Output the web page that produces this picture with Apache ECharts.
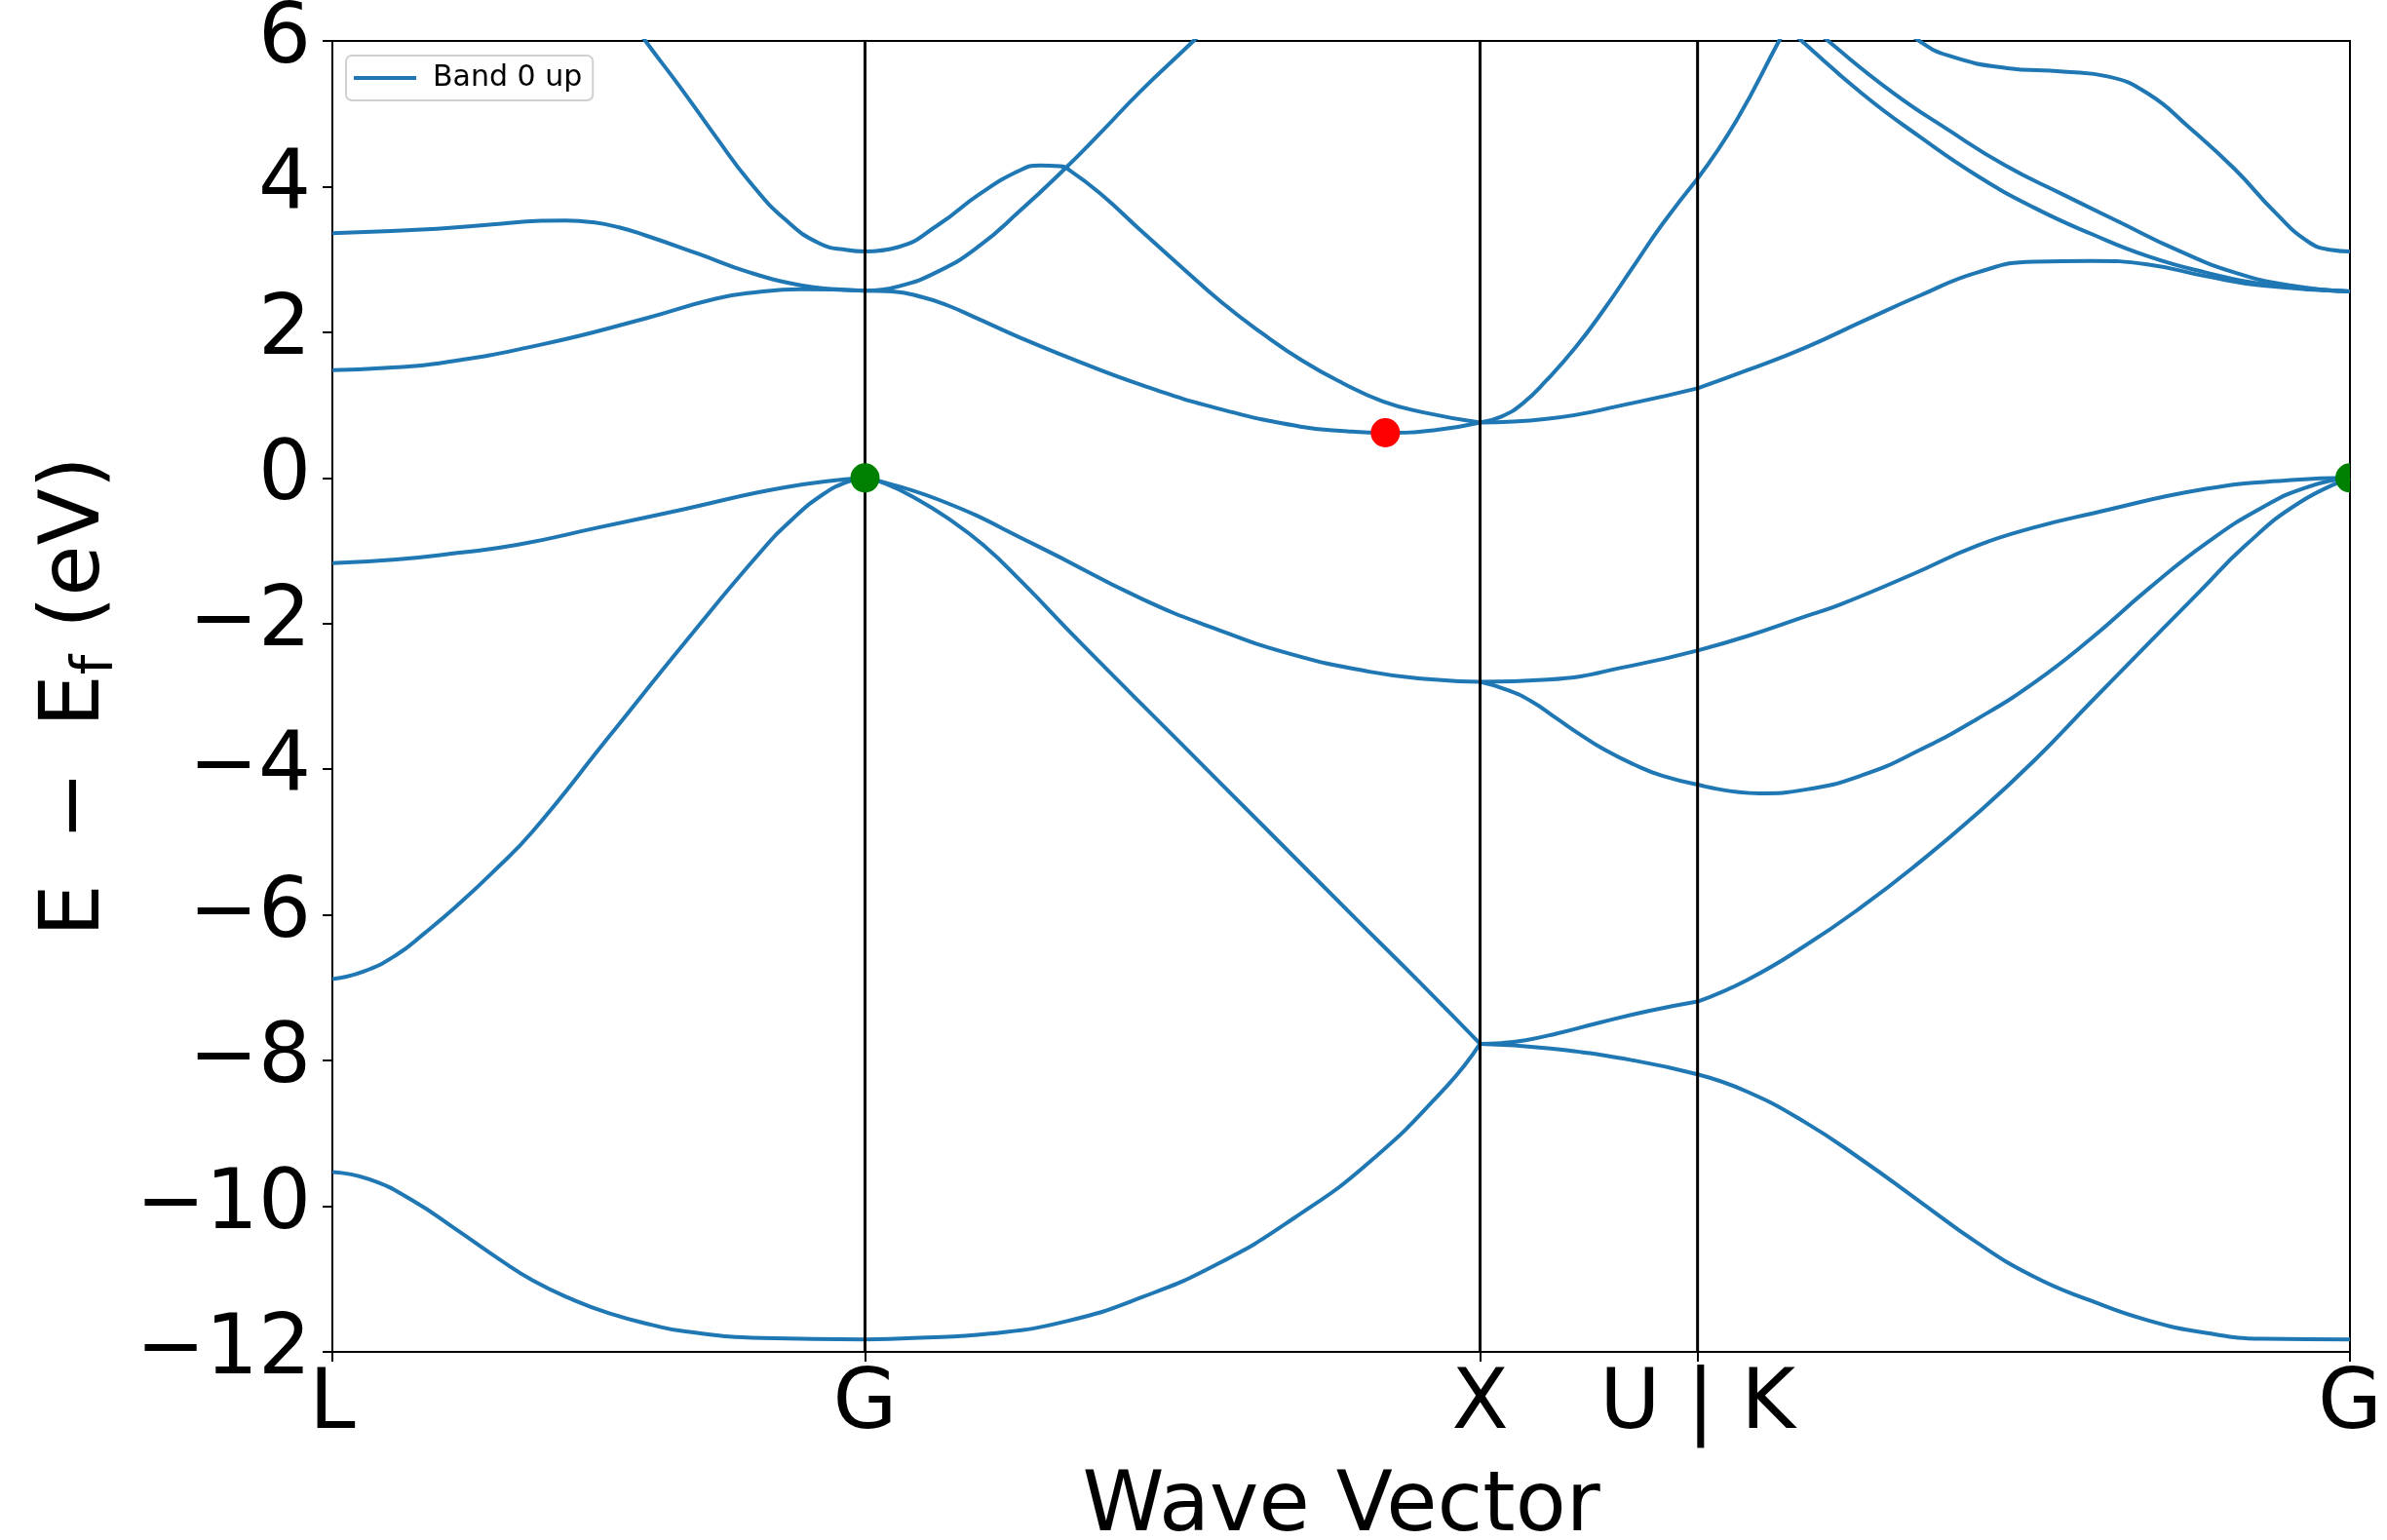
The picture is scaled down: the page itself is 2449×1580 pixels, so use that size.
<!DOCTYPE html>
<html><head><meta charset="utf-8">
<script src="https://cdn.jsdelivr.net/npm/echarts@6/dist/echarts.min.js"></script>
<style>html,body{margin:0;padding:0;background:#fff}#c{width:2449px;height:1580px}</style>
</head><body><div id="c"></div>
<script>
// High-symmetry path positions (cumulative k distance) and their labels
const kTicks = [0, 0.866, 1.866, 2.2196, 3.2803];
const kLabels = ['L', 'G', 'X', 'U | K', 'G'];
const yMin = -12, yMax = 6, yStep = 2;

// Bands, segment L -> G : [k, E - Ef]
const bandsLG = [
  [[0,-9.53],[0.06,-9.63],[0.130,-9.92],[0.203,-10.33],[0.270,-10.72],[0.326,-11.02],[0.390,-11.28],[0.450,-11.47],[0.520,-11.63],[0.574,-11.72],[0.698,-11.81],[0.866,-11.83]],
  [[0,-6.88],[0.05,-6.78],[0.104,-6.55],[0.150,-6.25],[0.203,-5.87],[0.260,-5.42],[0.326,-4.85],[0.450,-3.55],[0.574,-2.25],[0.698,-1.0],[0.750,-0.55],[0.797,-0.23],[0.835,-0.06],[0.866,0]],
  [[0,-1.17],[0.104,-1.12],[0.203,-1.03],[0.300,-0.92],[0.433,-0.68],[0.566,-0.44],[0.736,-0.13],[0.866,0]],
  [[0,1.48],[0.085,1.51],[0.170,1.57],[0.339,1.83],[0.509,2.19],[0.623,2.46],[0.690,2.55],[0.760,2.59],[0.866,2.57]],
  [[0,3.36],[0.170,3.42],[0.260,3.48],[0.339,3.53],[0.380,3.535],[0.424,3.51],[0.466,3.44],[0.509,3.33],[0.594,3.08],[0.679,2.82],[0.764,2.64],[0.820,2.59],[0.866,2.57]],
  [[0.390,7.3],[0.450,6.7],[0.509,6.0],[0.566,5.36],[0.623,4.69],[0.679,4.06],[0.736,3.55],[0.792,3.22],[0.837,3.13],[0.866,3.11]]
];
// Bands, segment G -> X
const bandsGX = [
  [[0.866,-11.83],[0.945,-11.81],[1.069,-11.75],[1.193,-11.58],[1.316,-11.25],[1.440,-10.79],[1.564,-10.16],[1.688,-9.38],[1.812,-8.35],[1.866,-7.77]],
  [[0.866,0],[0.900,-0.08],[0.946,-0.27],[1.000,-0.55],[1.058,-0.92],[1.120,-1.42],[1.216,-2.26],[1.366,-3.53],[1.516,-4.80],[1.666,-6.07],[1.766,-6.91],[1.866,-7.77]],
  [[0.866,0],[0.986,-0.30],[1.143,-0.92],[1.316,-1.66],[1.439,-2.08],[1.563,-2.43],[1.686,-2.66],[1.776,-2.76],[1.866,-2.80]],
  [[0.866,2.57],[0.910,2.56],[0.960,2.48],[1.000,2.37],[1.051,2.18],[1.117,1.93],[1.183,1.70],[1.314,1.28],[1.446,0.94],[1.577,0.70],[1.650,0.64],[1.712,0.62],[1.796,0.66],[1.866,0.76]],
  [[0.866,2.57],[0.920,2.63],[0.986,2.84],[1.051,3.18],[1.117,3.66],[1.183,4.18],[1.248,4.73],[1.314,5.31],[1.400,6.0],[1.466,6.55]],
  [[0.866,3.11],[0.920,3.17],[0.986,3.48],[1.051,3.89],[1.117,4.22],[1.150,4.29],[1.183,4.28],[1.196,4.24],[1.248,3.91],[1.314,3.40],[1.380,2.90],[1.446,2.41],[1.511,1.99],[1.577,1.61],[1.643,1.30],[1.708,1.05],[1.774,0.90],[1.866,0.76]]
];
// Bands, segment X -> U
const bandsXU = [
  [[1.866,-7.77],[1.976,-7.83],[2.117,-8.0],[2.2196,-8.19]],
  [[1.866,-7.77],[1.900,-7.76],[1.940,-7.72],[1.990,-7.63],[2.060,-7.48],[2.140,-7.32],[2.2196,-7.19]],
  [[1.866,-2.80],[1.976,-2.77],[2.117,-2.57],[2.2196,-2.37]],
  [[1.866,-2.80],[1.910,-2.91],[1.950,-3.07],[1.990,-3.30],[2.030,-3.53],[2.068,-3.73],[2.115,-3.93],[2.162,-4.09],[2.2196,-4.21]],
  [[1.866,0.76],[1.974,0.81],[2.115,1.03],[2.2196,1.23]],
  [[1.866,0.76],[1.900,0.84],[1.935,1.02],[1.974,1.34],[2.021,1.79],[2.068,2.32],[2.115,2.90],[2.162,3.48],[2.2196,4.11]]
];
// Bands, segment K -> G
const bandsKG = [
  [[2.2196,-8.19],[2.301,-8.43],[2.395,-8.85],[2.488,-9.37],[2.580,-9.93],[2.674,-10.50],[2.767,-10.97],[2.860,-11.30],[2.953,-11.57],[3.046,-11.74],[3.139,-11.82],[3.2803,-11.83]],
  [[2.2196,-7.19],[2.301,-6.89],[2.395,-6.42],[2.488,-5.88],[2.580,-5.28],[2.674,-4.61],[2.767,-3.88],[2.860,-3.07],[2.953,-2.27],[3.036,-1.56],[3.110,-0.93],[3.196,-0.35],[3.2803,0]],
  [[2.2196,-2.37],[2.301,-2.17],[2.395,-1.90],[2.451,-1.74],[2.567,-1.33],[2.674,-0.93],[2.767,-0.68],[2.860,-0.49],[3.046,-0.15],[3.185,-0.03],[3.2803,0]],
  [[2.2196,-4.21],[2.320,-4.33],[2.395,-4.28],[2.488,-4.08],[2.580,-3.74],[2.674,-3.31],[2.767,-2.81],[2.860,-2.20],[2.953,-1.52],[3.046,-0.90],[3.139,-0.40],[3.213,-0.12],[3.2803,0]],
  [[2.2196,1.23],[2.301,1.48],[2.395,1.79],[2.488,2.15],[2.580,2.50],[2.674,2.82],[2.767,2.97],[2.860,2.98],[2.953,2.93],[3.046,2.77],[3.139,2.64],[3.2803,2.56]],
  [[2.2196,4.11],[2.283,4.91],[2.352,6.0],[2.400,6.75]],
  [[2.330,6.45],[2.389,6.0],[2.488,5.27],[2.580,4.69],[2.674,4.15],[2.767,3.71],[2.860,3.35],[2.953,3.04],[3.046,2.82],[3.139,2.66],[3.2803,2.56]],
  [[2.370,6.45],[2.432,6.0],[2.534,5.31],[2.627,4.78],[2.720,4.29],[2.814,3.89],[2.906,3.51],[2.999,3.13],[3.093,2.82],[3.185,2.64],[3.2803,2.56]],
  [[2.538,6.3],[2.580,6.0],[2.627,5.80],[2.720,5.63],[2.814,5.58],[2.888,5.51],[2.953,5.27],[3.018,4.82],[3.093,4.24],[3.157,3.66],[3.213,3.24],[3.251,3.13],[3.2803,3.11]]
];
// Band extrema markers
const vbmPoints = [[0.866,0],[3.2803,0]];
const cbmPoints = [[1.712,0.62]];

const FONT = 'DejaVu Sans';
const BLUE = '#1f77b4';
const chart = echarts.init(document.getElementById('c'), null, {renderer: 'canvas'});

const series = [];
[bandsLG, bandsGX, bandsXU, bandsKG].forEach(seg => seg.forEach(pts => {
  series.push({
    name: 'Band 0 up', type: 'line', data: pts, showSymbol: false, symbol: 'none',
    smooth: 0.5, clip: true, silent: true, z: 2,
    lineStyle: {color: BLUE, width: 4}, itemStyle: {color: BLUE}
  });
}));
kTicks.slice(1, 4).forEach(k => {
  series.push({
    name: 'kline', type: 'line', data: [[k, yMin], [k, yMax]], showSymbol: false, symbol: 'none',
    silent: true, z: 5, lineStyle: {color: '#000', width: 3}
  });
});
function dotSeries(name, pts, color) {
  return {
    name: name, type: 'custom', data: pts, clip: true, silent: true, z: 10,
    renderItem: (params, api) => {
      const p = api.coord([api.value(0), api.value(1)]);
      return {type: 'circle', shape: {cx: p[0], cy: p[1], r: 15}, style: {fill: color}};
    }
  };
}
series.push(dotSeries('VBM', vbmPoints, '#008000'));
series.push(dotSeries('CBM', cbmPoints, '#ff0000'));

function kLabel(v) {
  for (let i = 0; i < kTicks.length; i++) if (Math.abs(kTicks[i] - v) < 1e-6) return kLabels[i];
  return '';
}

chart.setOption({
  animation: false,
  backgroundColor: '#fff',
  grid: {left: 341, top: 42, right: 38, bottom: 193, outerBoundsMode: 'none', containLabel: false,
    show: true, borderColor: '#000', borderWidth: 2, backgroundColor: 'transparent'},
  legend: {
    data: ['Band 0 up'], left: 355, top: 57, icon: 'rect', itemWidth: 64, itemHeight: 4,
    padding: [8, 11, 8, 8], backgroundColor: 'rgba(255,255,255,0.8)', borderColor: '#d0d0d0', borderWidth: 2, borderRadius: 6,
    selectedMode: false,
    textStyle: {fontFamily: FONT, fontSize: 30, color: '#000', padding: [0, 0, 0, 12]}
  },
  xAxis: {
    type: 'value', min: kTicks[0], max: kTicks[kTicks.length - 1],
    axisLine: {show: true, onZero: false, lineStyle: {color: '#000', width: 2}},
    axisTick: {show: true, customValues: kTicks, length: 10, lineStyle: {color: '#000', width: 2}},
    axisLabel: {customValues: kTicks, formatter: kLabel, fontFamily: FONT, fontSize: 85, color: '#000', margin: 13},
    splitLine: {show: false},
    name: 'Wave Vector', nameLocation: 'middle', nameGap: 118,
    nameTextStyle: {fontFamily: FONT, fontSize: 85, color: '#000'}
  },
  yAxis: {
    type: 'value', min: yMin, max: yMax, interval: yStep,
    axisLine: {show: true, onZero: false, lineStyle: {color: '#000', width: 2}},
    axisTick: {show: true, length: 10, lineStyle: {color: '#000', width: 2}},
    axisLabel: {formatter: v => String(v).replace('-', '\u2212'), fontFamily: FONT, fontSize: 85, color: '#000', margin: 22},
    splitLine: {show: false},
    name: '{a|E}{m|\u2212}{a|E}{s|f}{a| (eV)}', nameLocation: 'middle', nameGap: 196, nameRotate: 90,
    nameTextStyle: {
      fontFamily: FONT, fontSize: 85, color: '#000',
      rich: {
        a: {fontFamily: FONT, fontSize: 85, lineHeight: 100, color: '#000'},
        m: {fontFamily: FONT, fontSize: 85, lineHeight: 100, color: '#000', padding: [0, 45, 0, 45]},
        s: {fontFamily: FONT, fontSize: 58, lineHeight: 58, verticalAlign: 'bottom', color: '#000'}
      }
    }
  },
  series: series
});
</script></body></html>
